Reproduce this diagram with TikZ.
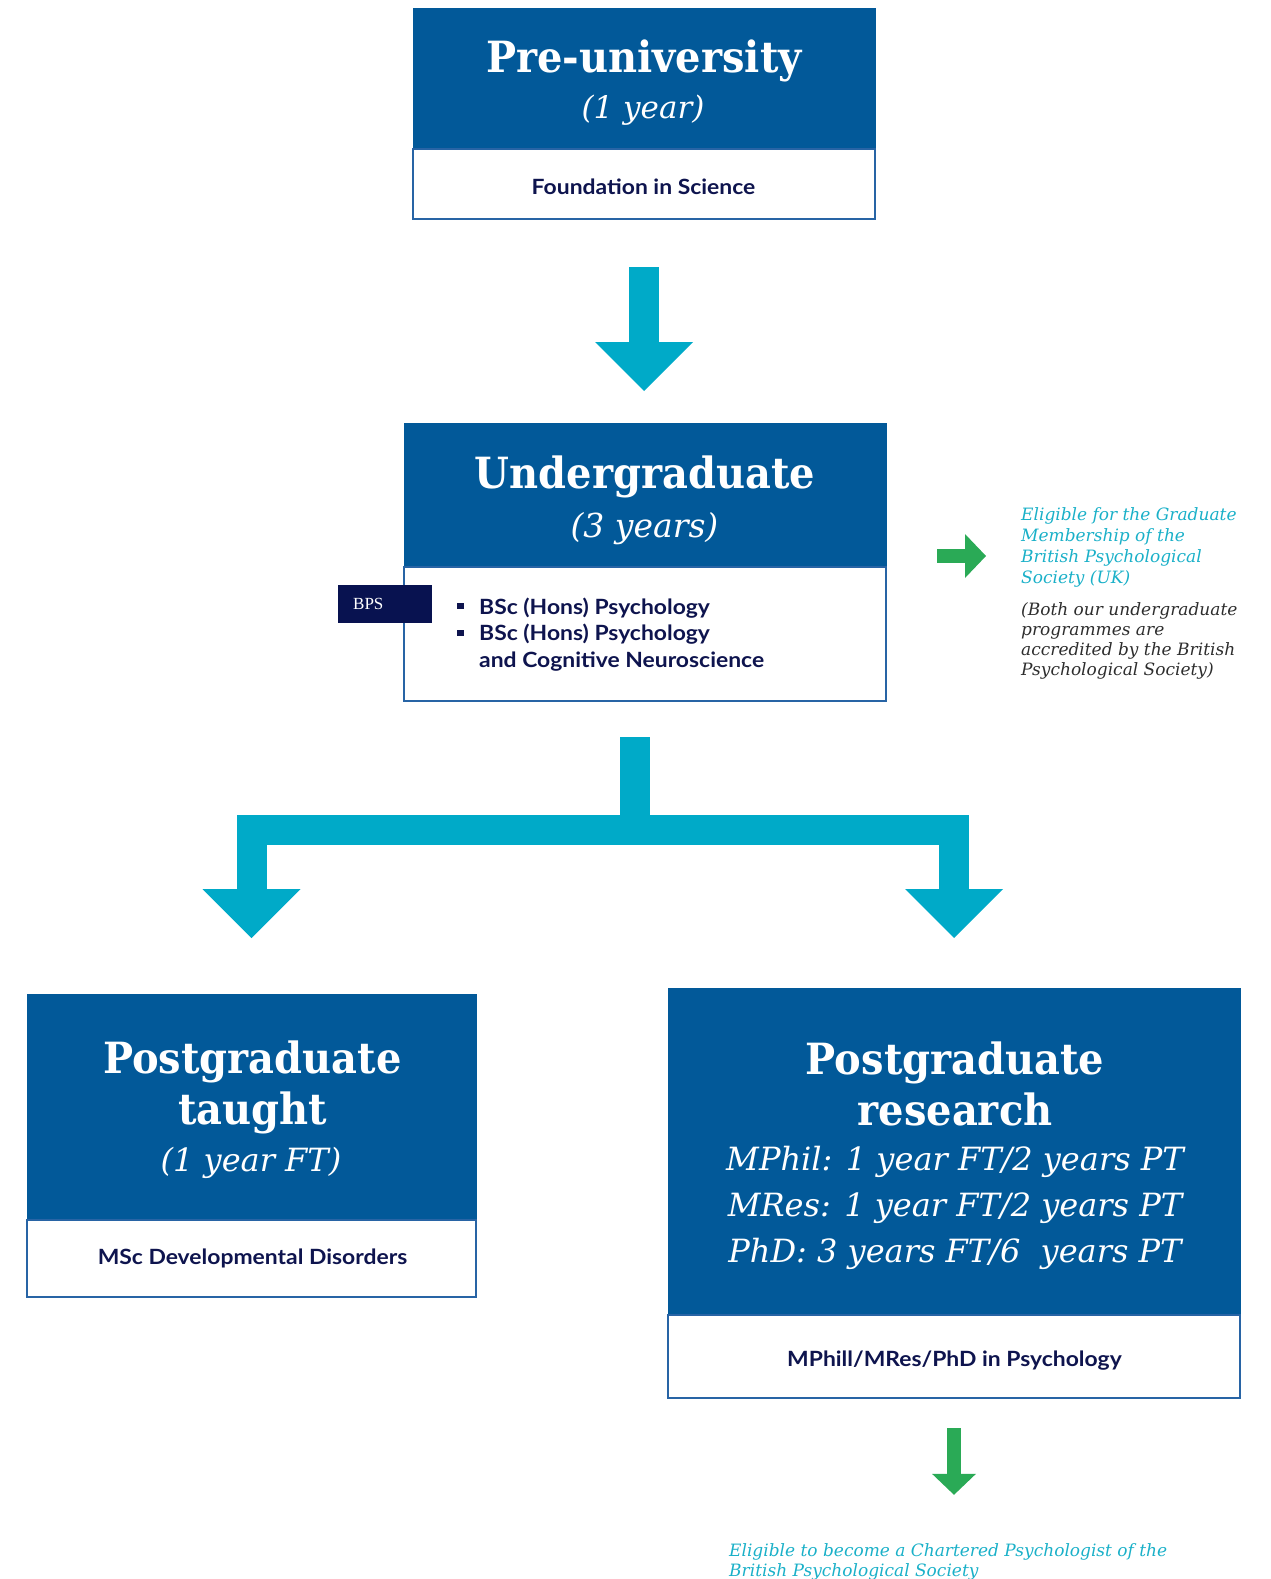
\documentclass[tikz,border=0pt]{standalone}
\usepackage{fontspec}
\usetikzlibrary{arrows.meta,positioning}

\newfontfamily\slabfont{DejaVu Serif}[FakeStretch=0.93]
\newfontfamily\noteserif{DejaVu Serif}
\newfontfamily\sansbody{Lato}[FakeStretch=1.09]
\newfontfamily\bpsfont{Liberation Serif}

\definecolor{hdrblue}{RGB}{2,89,153}
\definecolor{edgeblue}{RGB}{40,100,165}
\definecolor{navy}{RGB}{14,20,78}
\definecolor{bpsnavy}{RGB}{8,18,80}
\definecolor{arrowcyan}{RGB}{0,170,200}
\definecolor{bpsgreen}{RGB}{42,170,86}
\definecolor{eligcyan}{RGB}{26,176,200}
\definecolor{notegray}{RGB}{45,45,45}

\newcommand\sqbullet{\rule[5pt]{7pt}{6pt}}

\begin{document}
\begin{tikzpicture}[x=1pt, y=-1pt,
                    header/.style={fill=hdrblue, draw=hdrblue, line width=1pt, inner sep=0pt, outer sep=0pt},
                    body/.style={fill=white, draw=edgeblue, line width=2pt, inner sep=0pt, outer sep=0pt},
                    title/.style={font=\slabfont\bfseries\fontsize{43}{51}\selectfont, text=white, anchor=base, inner sep=0pt},
                    years/.style={font=\noteserif\itshape\fontsize{31}{46}\selectfont, text=white, anchor=base, inner sep=0pt},
                    course/.style={font=\sansbody\bfseries\fontsize{21}{26.5}\selectfont, text=navy, anchor=base, inner sep=0pt},
                    note/.style={font=\noteserif\itshape\fontsize{17}{21}\selectfont, anchor=base west, inner sep=0pt},
                    bpsbox/.style={fill=bpsnavy, text=white, font=\bpsfont\fontsize{17}{20}\selectfont, text width=64pt, align=left, inner xsep=15pt, minimum height=38pt},
                    bigarrow/.style={draw=arrowcyan, line width=30pt, line join=miter, -{Triangle[width=98pt,length=49pt,line width=0pt]}},
                    bigstem/.style={draw=arrowcyan, line width=30pt},
                    greenarrow/.style={draw=bpsgreen, line width=14pt, -{Triangle[width=44pt,length=21pt,line width=0pt]}}
                ]
                \useasboundingbox (0,0) rectangle (1271,1579);

                % Pre-university
                \node[header, minimum width=462pt, minimum height=140pt] (prehd) at (644,79) {};
                \node[body, minimum width=462pt, minimum height=70pt, below=0pt of prehd] (pre) {};
                \node[title] at (644,72) {Pre-university};
                \node[years] at (643,118) {(1 year)};
                \node[course] at (643.5,194) {Foundation in Science};

                % Undergraduate
                \node[header, minimum width=482pt, minimum height=144pt] (ughd) at (645,495) {};
                \node[body, minimum width=482pt, minimum height=134pt, below=0pt of ughd] (ug) {};
                \node[title] at (645,488) {Undergraduate};
                \node[years, font=\noteserif\itshape\fontsize{33}{46}\selectfont] at (644.5,537) {(3 years)};
                \node[course, anchor=base west] at (457,614) {\begin{tabular}[t]{@{}l@{\hspace{15pt}}l@{}}
                    \sqbullet & BSc (Hons) Psychology\\
                    \sqbullet & BSc (Hons) Psychology\\
                              & and Cognitive Neuroscience
                    \end{tabular}};
                \node[bpsbox, anchor=west] (bps) at (338,604) {BPS};

                % accreditation note
                \node[note, text=eligcyan] (elig) at (1021,520) {\begin{tabular}[t]{@{}l@{}}
                    Eligible for the Graduate\\ Membership of the\\ British Psychological\\ Society (UK)
                    \end{tabular}};
                \node[note, text=notegray, font=\noteserif\itshape\fontsize{17}{20}\selectfont] (both) at (1021,615) {\begin{tabular}[t]{@{}l@{}}
                    (Both our undergraduate\\ programmes are\\ accredited by the British\\ Psychological Society)
                    \end{tabular}};

                % Postgraduate taught
                \node[header, minimum width=449pt, minimum height=226pt] (pgthd) at (251.5,1107) {};
                \node[body, minimum width=449pt, minimum height=77pt, below=0pt of pgthd] (pgt) {};
                \node[title] at (252.5,1073) {\begin{tabular}[t]{@{}c@{}}Postgraduate\\ taught\end{tabular}};
                \node[years, font=\noteserif\itshape\fontsize{32}{46}\selectfont] at (251,1171) {(1 year FT)};
                \node[course] at (252.5,1264) {MSc Developmental Disorders};

                % Postgraduate research
                \node[header, minimum width=572pt, minimum height=327pt] (pgrhd) at (954,1151.5) {};
                \node[body, minimum width=572pt, minimum height=83pt, below=0pt of pgrhd] (pgr) {};
                \node[title] at (955,1074) {\begin{tabular}[t]{@{}c@{}}Postgraduate\\ research\end{tabular}};
                \node[years, font=\noteserif\itshape\fontsize{32}{46}\selectfont] at (955,1170) {\begin{tabular}[t]{@{}c@{}}
                    MPhil: 1 year FT/2 years PT\\ MRes: 1 year FT/2 years PT\\ PhD: 3 years FT/6\ \ years PT
                    \end{tabular}};
                \node[course] at (954.5,1366) {MPhill/MRes/PhD in Psychology};

                % chartered note
                \node[note, text=eligcyan, font=\noteserif\itshape\fontsize{17}{20}\selectfont] (chart) at (729,1556) {\begin{tabular}[t]{@{}l@{}}
                    Eligible to become a Chartered Psychologist of the\\ British Psychological Society
                    \end{tabular}};

                % arrows
                \draw[bigarrow, shorten <=48pt, shorten >=32pt] (pre.south) -- (pre.south |- ughd.north);
                \coordinate (fork) at (634.5,829.5);
                \draw[bigstem, shorten <=36pt] (ug.south -| fork) -- (fork);
                \draw[bigarrow, shorten >=56pt] (fork) -| (pgthd.north);
                \draw[bigarrow, shorten >=50pt] (fork) -| (pgrhd.north);

                \draw[greenarrow, shorten <=51pt, shorten >=35pt] ([yshift=11pt]ughd.south east) -- ([yshift=11pt]ughd.south east -| elig.west);
                \draw[greenarrow, shorten <=30pt, shorten >=47pt] (pgr.south) -- (pgr.south |- chart.north);

            \end{tikzpicture}
\end{document}
